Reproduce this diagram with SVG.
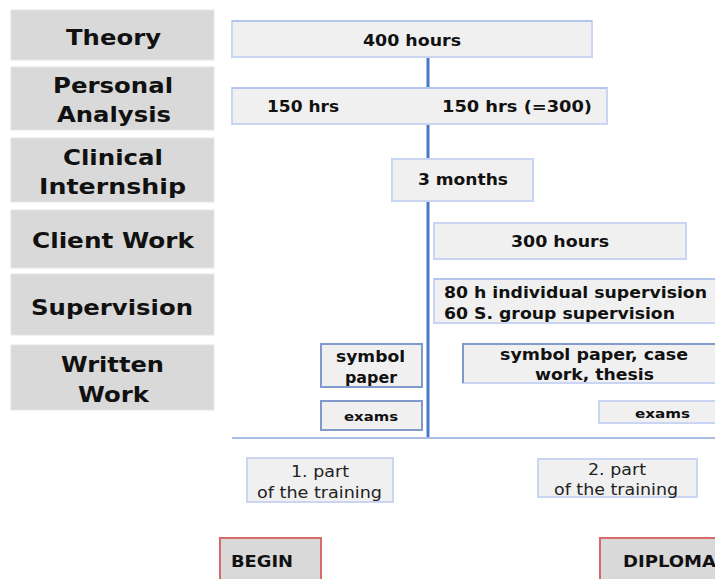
<svg xmlns="http://www.w3.org/2000/svg" width="715" height="579" viewBox="0 0 715 579">
<style>
.lab rect{fill:#d9d9d9;stroke:#e6e6e6;stroke-width:1}
.lab text{font-family:"DejaVu Sans",Verdana,sans-serif;font-weight:bold;font-size:22px;fill:#111;text-anchor:middle}
.bx{fill:#f0f0f0;stroke:#c9d5f2;stroke-width:2}
.bxd{fill:#f0f0f0;stroke:#7f9acb;stroke-width:2}
.t{font-family:"DejaVu Sans",Verdana,sans-serif;font-weight:bold;font-size:16px;fill:#111}
.s{font-size:13px}
.tn{font-family:"DejaVu Sans",Verdana,sans-serif;font-size:15.5px;fill:#222;text-anchor:middle}
.m{text-anchor:middle}
.end{fill:#d9d9d9;stroke:#d86a6a;stroke-width:2}
</style>
<rect width="715" height="579" fill="#fff"/>
<g id="labels">
<g id="lab-theory" class="lab"><rect x="11" y="10" width="203" height="50"/><text x="113.5" y="45" textLength="95" lengthAdjust="spacingAndGlyphs">Theory</text></g>
<g id="lab-analysis" class="lab"><rect x="11" y="67" width="203" height="63"/><text x="113" y="93" textLength="120" lengthAdjust="spacingAndGlyphs">Personal</text><text x="114" y="122" textLength="114" lengthAdjust="spacingAndGlyphs">Analysis</text></g>
<g id="lab-internship" class="lab"><rect x="11" y="138" width="203" height="64"/><text x="113" y="165" textLength="100" lengthAdjust="spacingAndGlyphs">Clinical</text><text x="112.5" y="194" textLength="147" lengthAdjust="spacingAndGlyphs">Internship</text></g>
<g id="lab-client" class="lab"><rect x="11" y="210" width="203" height="58"/><text x="113" y="248" textLength="162" lengthAdjust="spacingAndGlyphs">Client Work</text></g>
<g id="lab-supervision" class="lab"><rect x="11" y="274" width="203" height="61"/><text x="112" y="315" textLength="162" lengthAdjust="spacingAndGlyphs">Supervision</text></g>
<g id="lab-written" class="lab"><rect x="11" y="345" width="203" height="65"/><text x="112.5" y="372" textLength="103" lengthAdjust="spacingAndGlyphs">Written</text><text x="113.5" y="402" textLength="71" lengthAdjust="spacingAndGlyphs">Work</text></g>
</g>
<g id="connectors">
<line x1="428" y1="57" x2="428" y2="438" stroke="#4a78c9" stroke-width="3"/>
<line x1="232" y1="438" x2="715" y2="438" stroke="#a9bde6" stroke-width="2"/>
</g>
<g id="theory-400"><rect class="bx" x="232" y="21" width="360" height="36"/><line x1="232" y1="21" x2="592" y2="21" stroke="#b3c5ee" stroke-width="2"/><text class="t m" x="412" y="46" textLength="98" lengthAdjust="spacingAndGlyphs">400 hours</text></g>
<g id="analysis"><rect class="bx" x="232" y="88" width="375" height="36"/><line x1="232" y1="88" x2="607" y2="88" stroke="#b3c5ee" stroke-width="2"/><text class="t" x="267" y="112" textLength="72" lengthAdjust="spacingAndGlyphs">150 hrs</text><text class="t" x="442" y="112" textLength="150" lengthAdjust="spacingAndGlyphs">150 hrs (=300)</text></g>
<g id="internship"><rect class="bx" x="392" y="159" width="141" height="42"/><text class="t m" x="463" y="185" textLength="90" lengthAdjust="spacingAndGlyphs">3 months</text></g>
<g id="client"><rect class="bx" x="434" y="223" width="252" height="36"/><text class="t m" x="560" y="247" textLength="98" lengthAdjust="spacingAndGlyphs">300 hours</text></g>
<g id="supervision"><rect class="bx" x="434" y="279" width="290" height="44"/><line x1="434" y1="279" x2="715" y2="279" stroke="#b3c5ee" stroke-width="2"/><text class="t" x="444" y="298" textLength="263" lengthAdjust="spacingAndGlyphs">80 h individual supervision</text><text class="t" x="444" y="319" textLength="231" lengthAdjust="spacingAndGlyphs">60 S. group supervision</text></g>
<g id="symbol-paper"><rect class="bxd" x="321" y="344" width="101" height="43"/><text class="t m" x="370.5" y="362" textLength="69" lengthAdjust="spacingAndGlyphs">symbol</text><text class="t m" x="371" y="383" textLength="52" lengthAdjust="spacingAndGlyphs">paper</text></g>
<g id="exams-1"><rect class="bxd" x="321" y="401" width="101" height="29"/><text class="t s m" x="371" y="421" textLength="54" lengthAdjust="spacingAndGlyphs">exams</text></g>
<g id="written-2"><rect class="bx" x="463" y="344" width="270" height="39"/><polyline points="463,383 463,344 715,344" fill="none" stroke="#7f9acb" stroke-width="2"/><text class="t m" x="594" y="360" textLength="188" lengthAdjust="spacingAndGlyphs">symbol paper, case</text><text class="t m" x="594.5" y="380" textLength="119" lengthAdjust="spacingAndGlyphs">work, thesis</text></g>
<g id="exams-2"><rect class="bx" x="599" y="401" width="130" height="22"/><text class="t s m" x="662.5" y="418" textLength="55" lengthAdjust="spacingAndGlyphs">exams</text></g>
<g id="part-1"><rect class="bx" x="247" y="458" width="146" height="44"/><text class="tn" x="320" y="477" textLength="58" lengthAdjust="spacingAndGlyphs">1. part</text><text class="tn" x="319.5" y="498" textLength="125" lengthAdjust="spacingAndGlyphs">of the training</text></g>
<g id="part-2"><rect class="bx" x="538" y="459" width="159" height="38"/><text class="tn" x="617" y="475" textLength="58" lengthAdjust="spacingAndGlyphs">2. part</text><text class="tn" x="616" y="495" textLength="124" lengthAdjust="spacingAndGlyphs">of the training</text></g>
<g id="begin"><rect class="end" x="220" y="538" width="101" height="50"/><text class="t" x="231" y="567" textLength="62" lengthAdjust="spacingAndGlyphs">BEGIN</text></g>
<g id="diploma"><rect class="end" x="600" y="538" width="130" height="50"/><text class="t" x="623" y="567" textLength="93" lengthAdjust="spacingAndGlyphs">DIPLOMA</text></g>
</svg>
